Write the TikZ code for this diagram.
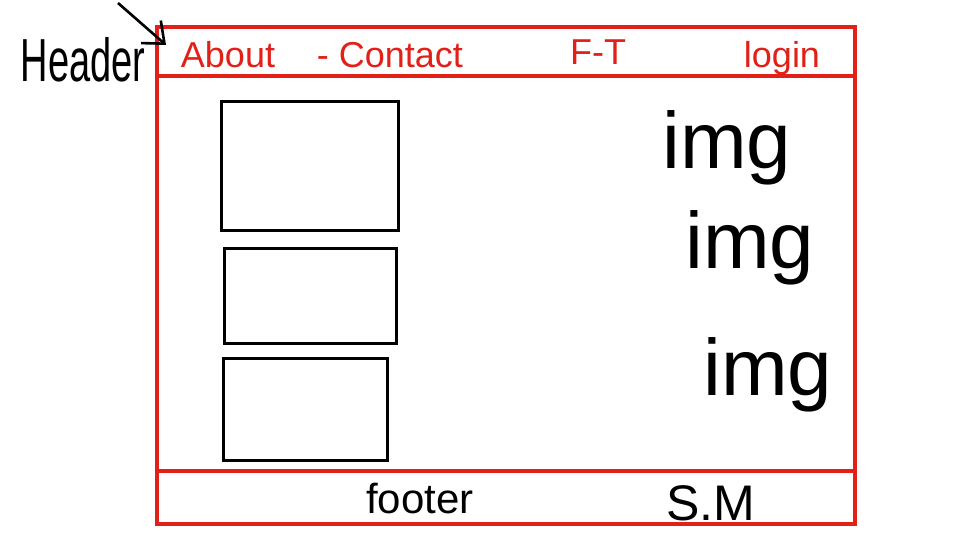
\documentclass[tikz,border=0pt]{standalone}
\usepackage{fontspec}
\setmainfont{Liberation Sans}
\usetikzlibrary{arrows.meta}
\definecolor{wred}{RGB}{226,32,24}
\tikzset{
  redline/.style={draw=wred, line width=3.2pt},
  wirebox/.style={draw=black, line width=3pt, inner sep=0pt},
  band/.style={redline, inner sep=0pt, minimum width=698pt},
  navtext/.style={text=wred, anchor=base, inner sep=0pt, font=\fontsize{36}{40}\selectfont},
  imgtext/.style={text=black, anchor=base, inner sep=0pt, font=\fontsize{80}{90}\selectfont},
  foottext/.style={text=black, anchor=base, inner sep=0pt},
}
\begin{document}
\begin{tikzpicture}[x=1pt,y=-1pt]
\useasboundingbox (0,0) rectangle (960,540);
% frame bands
\node[band, minimum height=395pt] (body) at (506,273.5) {};
\node[band, minimum height=49pt] (hdr) at (506,51.5) {};
\node[band, minimum height=53pt] (ftr) at (506,497.5) {};
% header label and arrow
\node[anchor=base, inner sep=0pt, font=\fontsize{38}{42}\selectfont] (hlabel) at (83,82) {\scalebox{1}[1.6]{Header}};
\coordinate (arrtail) at (118,3);
\coordinate (arrhead) at (166,45);
\draw[line width=2.6pt, -{Straight Barb[length=18pt,width=30pt]}] (arrtail) -- (arrhead);
% nav items
\node[navtext] (about) at (228,68) {About};
\node[navtext] (contact) at (390,68) {- Contact};
\node[navtext] (ft) at (598,65) {F-T};
\node[navtext] (login) at (782,68) {login};
% content boxes
\node[wirebox, minimum width=177pt, minimum height=128pt] (box1) at (309.5,166) {};
\node[wirebox, minimum width=172pt, minimum height=95pt] (box2) at (310,295.5) {};
\node[wirebox, minimum width=164pt, minimum height=102pt] (box3) at (305,409) {};
% img labels
\node[imgtext] (img1) at (727,168) {img};
\node[imgtext] (img2) at (750,268) {img};
\node[imgtext] (img3) at (768,395) {img};
% footer
\node[foottext, font=\fontsize{42}{46}\selectfont] (footer) at (420,513) {footer};
\node[foottext, font=\fontsize{50}{54}\selectfont] (sm) at (711,520) {S.M};
\end{tikzpicture}
\end{document}
